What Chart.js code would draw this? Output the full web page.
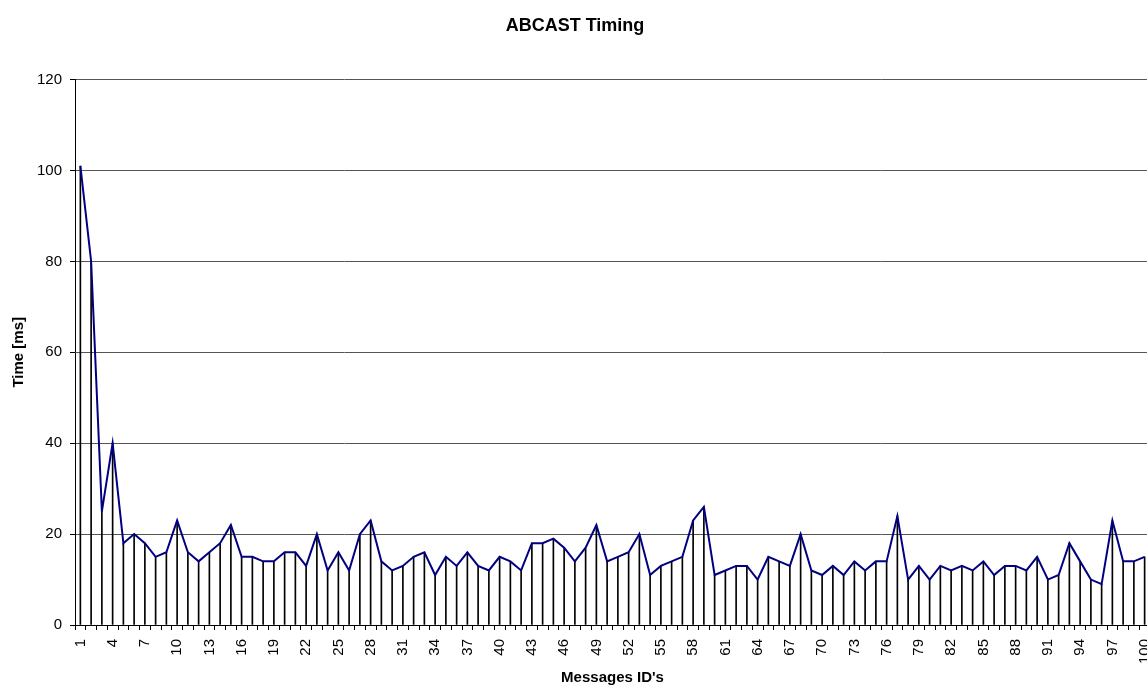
<!DOCTYPE html>
<html>
<head>
<meta charset="utf-8">
<title>ABCAST Timing</title>
<script src="https://cdn.jsdelivr.net/npm/chart.js@4/dist/chart.umd.min.js"></script>
<style>
    html, body { margin: 0; padding: 0; background: #fff; overflow: hidden; }
    #wrap { width: 1150px; height: 687px; }
</style>
</head>
<body>
<div id="wrap"><canvas id="myChart" width="1150" height="687"></canvas></div>
<script>
"use strict"

// Message IDs (x axis)
const messageIds = [
    1, 2, 3, 4, 5, 6, 7, 8, 9, 10,
    11, 12, 13, 14, 15, 16, 17, 18, 19, 20,
    21, 22, 23, 24, 25, 26, 27, 28, 29, 30,
    31, 32, 33, 34, 35, 36, 37, 38, 39, 40,
    41, 42, 43, 44, 45, 46, 47, 48, 49, 50,
    51, 52, 53, 54, 55, 56, 57, 58, 59, 60,
    61, 62, 63, 64, 65, 66, 67, 68, 69, 70,
    71, 72, 73, 74, 75, 76, 77, 78, 79, 80,
    81, 82, 83, 84, 85, 86, 87, 88, 89, 90,
    91, 92, 93, 94, 95, 96, 97, 98, 99, 100
];

// Time per message in ms
const timeMs = [
    101, 80, 25, 40, 18, 20, 18, 15, 16, 23,
    16, 14, 16, 18, 22, 15, 15, 14, 14, 16,
    16, 13, 20, 12, 16, 12, 20, 23, 14, 12,
    13, 15, 16, 11, 15, 13, 16, 13, 12, 15,
    14, 12, 18, 18, 19, 17, 14, 17, 22, 14,
    15, 16, 20, 11, 13, 14, 15, 23, 26, 11,
    12, 13, 13, 10, 15, 14, 13, 20, 12, 11,
    13, 11, 14, 12, 14, 14, 24, 10, 13, 10,
    13, 12, 13, 12, 14, 11, 13, 13, 12, 15,
    10, 11, 18, 14, 10, 9, 23, 14, 14, 15
];

// y axis ticks
const yMin = 0;
const yMax = 120;
const yStep = 20;

// only every third label is shown on the x axis
const labelEvery = 3;

const fontName = "'Liberation Sans', Arial, sans-serif";

const config = {
    type: 'bar',
    data: {
        labels: messageIds,
        datasets: [
            {
                // the blue line
                type: 'line',
                label: 'Time',
                data: timeMs,
                borderColor: '#000080',
                borderWidth: 2,
                pointRadius: 0,
                tension: 0,
                fill: false,
                order: 0
            },
            {
                // black drop lines from each point down to the axis
                type: 'bar',
                label: 'Drop lines',
                data: timeMs,
                backgroundColor: '#000',
                barThickness: 1,
                order: 1
            }
        ]
    },
    options: {
        responsive: false,
        animation: false,
        layout: { padding: 0 },
        plugins: {
            legend: { display: false },
            tooltip: { enabled: false },
            title: {
                display: true,
                text: 'ABCAST Timing',
                color: '#000',
                font: { family: fontName, size: 18, weight: 'bold' },
                padding: { top: 15, bottom: 43 }
            }
        },
        scales: {
            x: {
                offset: true,
                afterFit: (scale) => {
                    scale.height = 62;
                    // the plot runs to the right edge, no extra room for the last label
                    scale.paddingRight = 0;
                    scale.paddingLeft = 0;
                },
                grid: {
                    offset: true,
                    drawOnChartArea: false,
                    drawTicks: true,
                    tickLength: 5,
                    color: '#000'
                },
                border: { color: '#000', width: 1 },
                ticks: {
                    autoSkip: false,
                    minRotation: 90,
                    maxRotation: 90,
                    padding: 9,
                    color: '#000',
                    font: { family: fontName, size: 15 },
                    callback: function (val, index) {
                        return index % labelEvery === 0 ? this.getLabelForValue(val) : '';
                    }
                },
                title: {
                    display: true,
                    text: "Messages ID's",
                    color: '#000',
                    font: { family: fontName, size: 15, weight: 'bold' },
                    padding: { top: 0, bottom: 0 }
                }
            },
            y: {
                min: yMin,
                max: yMax,
                afterFit: (scale) => { scale.width = 75; },
                grid: {
                    color: '#555',
                    tickColor: '#000',
                    tickLength: 5,
                    lineWidth: 1
                },
                border: { color: '#000', width: 1 },
                ticks: {
                    stepSize: yStep,
                    padding: 8,
                    color: '#000',
                    font: { family: fontName, size: 15 }
                },
                title: {
                    display: true,
                    text: 'Time [ms]',
                    color: '#000',
                    font: { family: fontName, size: 15, weight: 'bold' },
                    padding: { top: 10, bottom: 0 }
                }
            }
        }
    }
};

const my_chart = new Chart(document.getElementById('myChart'), config);
</script>
</body>
</html>
